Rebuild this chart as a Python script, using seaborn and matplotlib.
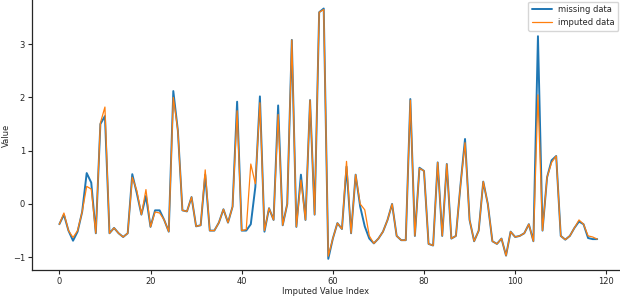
import numpy as np
import pandas as pd
import seaborn as sns
import matplotlib
matplotlib.use("Agg")
import matplotlib.pyplot as plt

# values, one per imputed index (0..118)
missing_data = [
    -0.38, -0.20, -0.50, -0.69, -0.52, -0.15, 0.58, 0.40, -0.55, 1.50,
    1.65, -0.55, -0.45, -0.55, -0.62, -0.55, 0.56, 0.20, -0.20, 0.15,
    -0.43, -0.12, -0.12, -0.30, -0.52, 2.12, 1.38, -0.12, -0.14, 0.13,
    -0.42, -0.40, 0.55, -0.50, -0.50, -0.35, -0.10, -0.35, -0.05, 1.92,
    -0.50, -0.50, -0.38, 0.32, 2.02, -0.52, -0.08, -0.30, 1.85, -0.40,
    0.00, 3.08, -0.43, 0.55, -0.30, 1.95, -0.20, 3.60, 3.67, -1.03,
    -0.65, -0.36, -0.47, 0.70, -0.55, 0.55, -0.05, -0.42, -0.65, -0.74,
    -0.65, -0.52, -0.30, 0.00, -0.60, -0.68, -0.68, 1.97, -0.60, 0.68,
    0.62, -0.75, -0.78, 0.78, -0.60, 0.75, -0.65, -0.60, 0.35, 1.22,
    -0.30, -0.70, -0.50, 0.42, 0.00, -0.70, -0.75, -0.65, -0.97, -0.52,
    -0.62, -0.60, -0.55, -0.38, -0.70, 3.15, -0.50, 0.50, 0.82, 0.90,
    -0.60, -0.67, -0.60, -0.45, -0.33, -0.38, -0.64, -0.66, -0.66,
]
imputed_data = [
    -0.38, -0.17, -0.50, -0.63, -0.50, -0.15, 0.33, 0.28, -0.55, 1.52,
    1.82, -0.55, -0.45, -0.55, -0.62, -0.55, 0.50, 0.25, -0.20, 0.27,
    -0.43, -0.15, -0.17, -0.30, -0.52, 2.00, 1.38, -0.12, -0.14, 0.13,
    -0.42, -0.40, 0.64, -0.50, -0.50, -0.35, -0.10, -0.35, -0.05, 1.75,
    -0.50, -0.48, 0.75, 0.38, 1.90, -0.50, -0.08, -0.30, 1.68, -0.40,
    0.00, 3.08, -0.43, 0.45, -0.30, 1.95, -0.20, 3.60, 3.65, -0.98,
    -0.65, -0.36, -0.47, 0.80, -0.55, 0.55, 0.00, -0.11, -0.60, -0.74,
    -0.65, -0.52, -0.30, 0.00, -0.60, -0.68, -0.68, 1.95, -0.60, 0.67,
    0.62, -0.75, -0.78, 0.78, -0.60, 0.75, -0.65, -0.60, 0.35, 1.15,
    -0.30, -0.70, -0.50, 0.42, 0.00, -0.70, -0.75, -0.65, -0.97, -0.52,
    -0.62, -0.60, -0.55, -0.38, -0.70, 2.05, -0.50, 0.50, 0.78, 0.90,
    -0.60, -0.67, -0.60, -0.45, -0.30, -0.38, -0.60, -0.62, -0.66,
]
index = np.arange(len(missing_data))

df = pd.DataFrame({"index": index, "missing": missing_data, "imputed": imputed_data})

sns.set_style("ticks")
plt.rcParams["font.family"] = ["DejaVu Sans"]

fig = plt.figure(figsize=(6.2, 2.96), dpi=100)
ax = fig.add_axes([32 / 620, 26 / 296, 588 / 620, 270 / 296])

sns.lineplot(data=df, x="index", y="missing", ax=ax, color="#1f77b4",
             linewidth=1.4, label="missing data")
sns.lineplot(data=df, x="index", y="imputed", ax=ax, color="#ff7f0e",
             linewidth=0.9, label="imputed data")

ax.set_xlim(-6.0, 123.0)
ax.set_ylim(-1.24, 3.83)
ax.set_xticks([0, 20, 40, 60, 80, 100, 120])
ax.set_yticks([-1, 0, 1, 2, 3])
ax.set_xlabel("Imputed Value Index", fontsize=6, labelpad=0.5)
ax.set_ylabel("Value", fontsize=6, labelpad=1.5)
ax.tick_params(labelsize=6, length=3, width=0.8, pad=2)
for s in ["left", "bottom"]:
    ax.spines[s].set_linewidth(0.9)
sns.despine(ax=ax)

ax.legend(loc="upper right", fontsize=6, handlelength=2.4, frameon=True,
          borderaxespad=0.2, edgecolor="#cccccc", fancybox=True)

fig.savefig("out.png", dpi=100)
